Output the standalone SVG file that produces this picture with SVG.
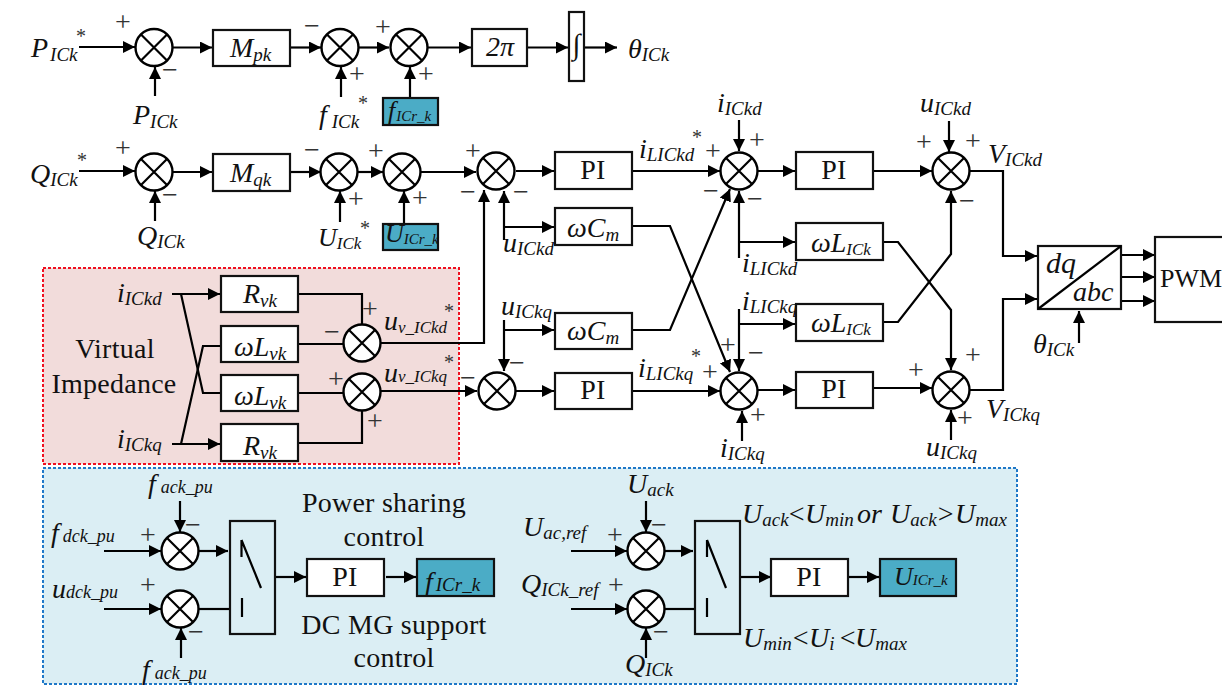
<svg xmlns="http://www.w3.org/2000/svg" width="1222" height="685" viewBox="0 0 1222 685">
<style>
text{font-family:"Liberation Serif","Times New Roman",serif;fill:#111}
.v{font-style:italic;font-size:28px}
.s{font-size:19px}
.ss{font-size:15px}
.t{font-size:28px;letter-spacing:.25px}
.c{text-anchor:middle}
.sg{font-size:28px;text-anchor:middle;fill:#333}
.st{font-size:20px;text-anchor:middle;fill:#333}
.b{fill:#fff;stroke:#111;stroke-width:2.2}
.tl{fill:#4bacc6;stroke:#111;stroke-width:2.2}
.w{fill:none;stroke:#000;stroke-width:2.2}
.a{fill:none;stroke:#000;stroke-width:2.2;marker-end:url(#ah)}
</style>
<defs>
<marker id="ah" markerUnits="userSpaceOnUse" markerWidth="13" markerHeight="13" refX="12" refY="6" orient="auto"><path d="M0 0L12 6L0 12z" fill="#000"/></marker>
<g id="sum"><circle r="18.5" fill="#fff" stroke="#000" stroke-width="2.4"/><path d="M-13-13L13 13M-13 13L13-13" stroke="#000" stroke-width="2.2" fill="none"/></g>
</defs>
<rect width="1222" height="685" fill="#fff"/>
<g id="regions">
<rect x="43" y="268" width="416" height="196" fill="#f2dcdb" stroke="#f01020" stroke-width="2" stroke-dasharray="3 2"/>
<rect x="43" y="468" width="974" height="216" fill="#dbeef4" stroke="#1f78c8" stroke-width="2" stroke-dasharray="3 2"/>
</g>
<g id="connectors">
<path class="a" d="M79 47H135"/><path class="a" d="M155 96V67"/><path class="a" d="M173 47.500H212"/><path class="a" d="M291 47.500H321"/><path class="a" d="M341 97V67"/><path class="a" d="M359 47.500H389"/><path class="a" d="M410 98V67"/><path class="a" d="M428 47.500H471"/><path class="a" d="M528 47.500H568"/><path class="a" d="M585 47.500H617"/>
<path class="a" d="M79 171H135"/><path class="a" d="M155 221V191"/><path class="a" d="M173 172H212"/><path class="a" d="M291 172H321"/><path class="a" d="M340 222V191"/><path class="a" d="M358 172H383"/><path class="a" d="M404 224V191"/><path class="a" d="M421 172H476"/>
<path class="a" d="M516 171H554"/><path class="a" d="M633 171H720"/><path class="a" d="M758 171H795"/><path class="a" d="M874 171H932"/><path class="a" d="M514 391H554"/><path class="a" d="M633 391H720"/><path class="a" d="M758 390H795"/><path class="a" d="M874 388H932"/>
<path class="a" d="M362 343H484V190"/><path class="a" d="M381 391H477"/>
<path class="a" d="M504 240V191"/><path class="a" d="M504 227H554"/><path class="a" d="M504 320V371"/><path class="a" d="M504 330H554"/>
<path class="a" d="M633 226H670L730 372"/><path class="a" d="M633 330H670L730 189"/>
<path class="a" d="M739 120V151"/><path class="a" d="M742 441V411"/><path class="a" d="M739 258V191"/><path class="a" d="M739 242H795"/><path class="a" d="M739 309V371"/><path class="a" d="M739 324H795"/>
<path class="a" d="M884 242H898L951 310V370"/><path class="a" d="M884 322H898L951 254V191"/>
<path class="a" d="M949 121V152"/><path class="a" d="M951 440V410"/>
<path class="a" d="M970 171H1003V256H1037"/><path class="a" d="M970 390H1003V299H1037"/>
<path class="a" d="M1122 255H1155"/><path class="a" d="M1122 277H1155"/><path class="a" d="M1122 301H1155"/><path class="a" d="M1079 343V311"/>
<path class="a" d="M172 294H220"/><path class="w" d="M181 294L203 393H221"/><path class="a" d="M172 444H220"/><path class="w" d="M181 444L203 346H221"/>
<path class="w" d="M298 294H362V325"/><path class="w" d="M298 344H344"/><path class="w" d="M298 393H344"/><path class="w" d="M298 443H362V411"/>
<path class="a" d="M104 551H161"/><path class="a" d="M104 609H161"/><path class="a" d="M180 501V532"/><path class="a" d="M181 658V628"/><path class="a" d="M199 551H228"/><path class="w" d="M199 609H230"/><path class="a" d="M276 577H306"/><path class="a" d="M386 577H416"/>
<path class="w" d="M241.500 540V557M241.500 540L261 588M242 598V617"/>
<path class="a" d="M571 551H627"/><path class="a" d="M571 609H627"/><path class="a" d="M646 501V532"/><path class="a" d="M646 658V628"/><path class="a" d="M665 551H693"/><path class="w" d="M665 609H695"/><path class="a" d="M741 577H771"/><path class="a" d="M849 577H879"/>
<path class="w" d="M707 540V557M707 540L726 588M707 598V617"/>
</g>
<g id="sums">
<use id="s1" href="#sum" x="154" y="47.500"/><use id="s2" href="#sum" x="340" y="47.500"/><use id="s3" href="#sum" x="409" y="47.500"/>
<use id="s4" href="#sum" x="154" y="172"/><use id="s5" href="#sum" x="339" y="172"/><use id="s6" href="#sum" x="402" y="172"/>
<use id="s7" href="#sum" x="496" y="171"/><use id="s8" href="#sum" x="497" y="391"/><use id="s9" href="#sum" x="739" y="171"/><use id="s10" href="#sum" x="739" y="391"/><use id="s11" href="#sum" x="951" y="171"/><use id="s12" href="#sum" x="951" y="390"/>
<use id="s13" href="#sum" x="362" y="343"/><use id="s14" href="#sum" x="362" y="392"/>
<use id="s15" href="#sum" x="180" y="551"/><use id="s16" href="#sum" x="180" y="609"/><use id="s17" href="#sum" x="646" y="551"/><use id="s18" href="#sum" x="646" y="609"/>
</g>
<g id="n-mpk"><rect class="b" x="213" y="30" width="77" height="36"/><text class="v" x="230" y="57">M<tspan class="s" dy="4">pk</tspan></text></g>
<g id="n-2pi"><rect class="b" x="472" y="29" width="55" height="37"/><text class="v" x="486" y="56">2π</text></g>
<g id="n-int"><rect class="b" x="569" y="12" width="15" height="69"/><text x="576.500" y="54" class="c" style="font-size:29px">∫</text></g>
<g id="n-mqk"><rect class="b" x="213" y="154" width="77" height="37"/><text class="v" x="230" y="182">M<tspan class="s" dy="4">qk</tspan></text></g>
<g id="n-fr1"><rect class="tl" x="383" y="98" width="55" height="27"/><text class="v" x="388" y="119" style="font-size:26px">f<tspan class="ss" dx="1" dy="2">ICr_k</tspan></text></g>
<g id="n-ur1"><rect class="tl" x="383" y="224" width="55" height="26"/><text class="v" x="385" y="242" style="font-size:26px">U<tspan class="ss" dy="2">ICr_k</tspan></text></g>
<g id="n-pi1"><rect class="b" x="555" y="152" width="77" height="37"/><text class="t c" x="593" y="179">PI</text></g>
<g id="n-wcm1"><rect class="b" x="555" y="208" width="77" height="37"/><text class="v" x="567" y="237">ωC<tspan class="s" dy="4">m</tspan></text></g>
<g id="n-wcm2"><rect class="b" x="555" y="313" width="77" height="36"/><text class="v" x="567" y="340">ωC<tspan class="s" dy="4">m</tspan></text></g>
<g id="n-pi2"><rect class="b" x="555" y="373" width="77" height="36"/><text class="t c" x="593" y="399">PI</text></g>
<g id="n-pi3"><rect class="b" x="796" y="152" width="77" height="37"/><text class="t c" x="834" y="179">PI</text></g>
<g id="n-wl1"><rect class="b" x="796" y="223" width="87" height="37"/><text class="v" x="811" y="252">ωL<tspan class="s" dy="3" style="font-size:17px">ICk</tspan></text></g>
<g id="n-wl2"><rect class="b" x="796" y="304" width="87" height="37"/><text class="v" x="811" y="332">ωL<tspan class="s" dy="3" style="font-size:17px">ICk</tspan></text></g>
<g id="n-pi4"><rect class="b" x="796" y="372" width="77" height="36"/><text class="t c" x="834" y="398">PI</text></g>
<g id="n-dq"><rect class="b" x="1038" y="246" width="83" height="63"/><path class="w" d="M1038 309L1121 246"/><text class="v" x="1046" y="273" style="font-size:30px">dq</text><text class="v" x="1073" y="301" style="font-size:28px">abc</text></g>
<g id="n-pwm"><rect class="b" x="1155" y="237" width="80" height="85"/><text x="1160" y="287" style="font-size:26px">PWM</text></g>
<g id="n-rv1"><rect class="b" x="221" y="276" width="77" height="36"/><text class="v" x="243" y="303">R<tspan class="s" dy="4">vk</tspan></text></g>
<g id="n-lv1"><rect class="b" x="221" y="326" width="77" height="36"/><text class="v" x="234" y="356">ωL<tspan class="s" dy="4">vk</tspan></text></g>
<g id="n-lv2"><rect class="b" x="221" y="375" width="77" height="36"/><text class="v" x="234" y="405">ωL<tspan class="s" dy="4">vk</tspan></text></g>
<g id="n-rv2"><rect class="b" x="221" y="424" width="77" height="37"/><text class="v" x="243" y="455">R<tspan class="s" dy="4">vk</tspan></text></g>
<g id="n-sw1"><rect x="230" y="521" width="45" height="113" fill="none" stroke="#111" stroke-width="2.200"/></g>
<g id="n-pi5"><rect class="b" x="307" y="559" width="77" height="37"/><text class="t c" x="345" y="586">PI</text></g>
<g id="n-fr2"><rect class="tl" x="417" y="559" width="77" height="37"/><text class="v" x="425" y="591">f<tspan class="s" dx="3" dy="0">ICr_k</tspan></text></g>
<g id="n-sw2"><rect x="695" y="521" width="45" height="113" fill="none" stroke="#111" stroke-width="2.200"/></g>
<g id="n-pi6"><rect class="b" x="771" y="559" width="77" height="37"/><text class="t c" x="809" y="586">PI</text></g>
<g id="n-ur2"><rect class="tl" x="880" y="559" width="76" height="37"/><text class="v" x="894" y="585" style="font-size:26px">U<tspan class="ss" dy="0">ICr_k</tspan></text></g>
<g id="labels">
<text class="v" x="31" y="57">P<tspan class="s" dy="4" dx="2">ICk</tspan></text>
<text class="v" x="133" y="124">P<tspan class="s" dy="4">ICk</tspan></text>
<text class="v" x="319" y="124">f<tspan class="s" dy="4" dx="5">ICk</tspan></text>
<text class="v" x="30" y="183">Q<tspan class="s" dy="3">ICk</tspan></text>
<text class="v" x="137" y="245">Q<tspan class="s" dy="3">ICk</tspan></text>
<text class="v" x="318" y="246" style="font-size:26px">U<tspan class="s" dy="3" style="font-size:17px">ICk</tspan></text>
<text class="v" x="628" y="58">θ<tspan class="s" dy="3">ICk</tspan></text>
<text class="v" x="639" y="158">i<tspan class="s" dy="3">LICkd</tspan></text>
<text class="v" x="638" y="377">i<tspan class="s" dy="3">LICkq</tspan></text>
<text class="v" x="717" y="112">i<tspan class="s" dy="3">ICkd</tspan></text>
<text class="v" x="720" y="457">i<tspan class="s" dy="3">ICkq</tspan></text>
<text class="v" x="503" y="252">u<tspan class="s" dy="3">ICkd</tspan></text>
<text class="v" x="501" y="315">u<tspan class="s" dy="3">ICkq</tspan></text>
<text class="v" x="742" y="272">i<tspan class="s" dy="3">LICkd</tspan></text>
<text class="v" x="742" y="310">i<tspan class="s" dy="3">LICkq</tspan></text>
<text class="v" x="920" y="112">u<tspan class="s" dy="3">ICkd</tspan></text>
<text class="v" x="926" y="456">u<tspan class="s" dy="3">ICkq</tspan></text>
<text class="v" x="988" y="163">V<tspan class="s" dy="3">ICkd</tspan></text>
<text class="v" x="986" y="418">V<tspan class="s" dy="3">ICkq</tspan></text>
<text class="v" x="1033" y="353">θ<tspan class="s" dy="3">ICk</tspan></text>
<text class="v" x="117" y="302">i<tspan class="s" dy="3">ICkd</tspan></text>
<text class="v" x="117" y="448">i<tspan class="s" dy="3">ICkq</tspan></text>
<text class="v" x="384" y="330">u<tspan class="s" dy="3" style="font-size:17px">v_ICkd</tspan></text>
<text class="v" x="384" y="382">u<tspan class="s" dy="0" style="font-size:17px">v_ICkq</tspan></text>
<text class="t c" x="115" y="358">Virtual</text>
<text class="t c" x="114" y="393">Impedance</text>
<text class="t c" x="384" y="512">Power sharing</text>
<text class="t c" x="384" y="546">control</text>
<text class="t c" x="394" y="634">DC MG support</text>
<text class="t c" x="394" y="667">control</text>
<text class="v" x="148" y="493">f<tspan class="s" dx="5" dy="0" style="font-size:18px">ack_pu</tspan></text>
<text class="v" x="51" y="542">f<tspan class="s" dx="4" dy="0" style="font-size:18px">dck_pu</tspan></text>
<text class="v" x="52" y="598">u<tspan class="s" dy="0" style="font-size:18px">dck_pu</tspan></text>
<text class="v" x="142" y="679">f<tspan class="s" dx="5" dy="0" style="font-size:18px">ack_pu</tspan></text>
<text class="v" x="627" y="493">U<tspan class="s" dy="3">ack</tspan></text>
<text class="v" x="523" y="536">U<tspan class="s" dy="3">ac,ref</tspan></text>
<text class="v" x="521" y="593">Q<tspan class="s" dy="3">ICk_ref</tspan></text>
<text class="v" x="625" y="673">Q<tspan class="s" dy="3">ICk</tspan></text>
<text class="v" x="742" y="523">U<tspan class="s" dy="3">ack</tspan><tspan x="787" dy="-3">&lt;</tspan><tspan x="805">U</tspan><tspan class="s" dy="3">min</tspan><tspan x="857" dy="-3">or</tspan><tspan x="890">U</tspan><tspan class="s" dy="3">ack</tspan><tspan x="936" dy="-3">&gt;</tspan><tspan x="955">U</tspan><tspan class="s" dy="3">max</tspan></text>
<text class="v" x="743" y="647">U<tspan class="s" dy="3">min</tspan><tspan x="791" dy="-3">&lt;</tspan><tspan x="809">U</tspan><tspan class="s" dy="3">i</tspan><tspan x="838" dy="-3">&lt;</tspan><tspan x="855">U</tspan><tspan class="s" dy="3">max</tspan></text>
</g>
<g id="stars">
<text class="st" x="81" y="43">*</text><text class="st" x="363" y="110">*</text><text class="st" x="82" y="167">*</text><text class="st" x="365" y="235">*</text><text class="st" x="697" y="144">*</text><text class="st" x="696" y="363">*</text><text class="st" x="449" y="318">*</text><text class="st" x="449" y="369">*</text>
</g>
<g id="signs" transform="translate(0 1)">
<text class="sg" x="123" y="30">+</text><text class="sg" x="170" y="78">−</text><text class="sg" x="312" y="34">−</text><text class="sg" x="357" y="82">+</text><text class="sg" x="383" y="35">+</text><text class="sg" x="426" y="82">+</text>
<text class="sg" x="123" y="156">+</text><text class="sg" x="170" y="203">−</text><text class="sg" x="312" y="158">−</text><text class="sg" x="356" y="207">+</text><text class="sg" x="376" y="159">+</text><text class="sg" x="420" y="206">+</text><text class="sg" x="473" y="159">+</text><text class="sg" x="468" y="200">−</text>
<text class="sg" x="521" y="200">−</text><text class="sg" x="713" y="159">+</text><text class="sg" x="757" y="148">+</text><text class="sg" x="711" y="199">−</text><text class="sg" x="755" y="207">−</text><text class="sg" x="728" y="353">+</text><text class="sg" x="756" y="361">−</text><text class="sg" x="710" y="380">+</text><text class="sg" x="758" y="423">+</text><text class="sg" x="517" y="371">−</text><text class="sg" x="468" y="386">−</text>
<text class="sg" x="924" y="150">+</text><text class="sg" x="973" y="149">+</text><text class="sg" x="967" y="209">−</text><text class="sg" x="973" y="363">+</text><text class="sg" x="916" y="378">+</text><text class="sg" x="965" y="426">+</text>
<text class="sg" x="370" y="317">+</text><text class="sg" x="332" y="340">−</text><text class="sg" x="336" y="387">+</text><text class="sg" x="375" y="429">+</text>
<text class="sg" x="193" y="533">−</text><text class="sg" x="148" y="543">+</text><text class="sg" x="148" y="593">+</text><text class="sg" x="196" y="640">−</text>
<text class="sg" x="659" y="533">−</text><text class="sg" x="615" y="543">+</text><text class="sg" x="616" y="593">+</text><text class="sg" x="661" y="640">−</text>
</g>
</svg>
